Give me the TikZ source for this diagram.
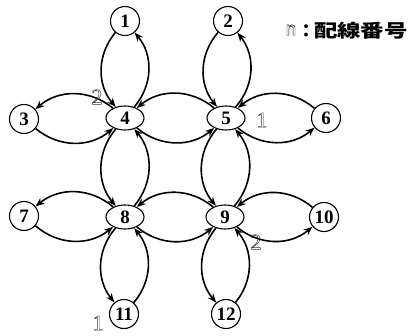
\documentclass[tikz,border=0pt]{standalone}
\usepackage{fontspec}
\setmainfont{Liberation Serif}
\newfontfamily\cjk{Noto Sans CJK JP}
\usetikzlibrary{shapes.geometric,arrows.meta}
\newcommand{\outl}[1]{\special{pdf:literal direct 1 Tr 0.45 w}#1\special{pdf:literal direct 0 Tr}}
\begin{document}
\begin{tikzpicture}[x=1pt,y=1pt,
  circ/.style={circle,draw,line width=1.1pt,minimum size=29pt,inner sep=0pt,font=\fontsize{19}{19}\selectfont\bfseries},
  oval/.style={ellipse,draw,line width=1.1pt,minimum width=38pt,minimum height=24pt,inner sep=0pt,font=\fontsize{19}{19}\selectfont\bfseries},
  link/.style={line width=1.6pt,-{Stealth[length=9pt,width=7pt,inset=3pt]},bend right=40},
  num/.style={font=\fontsize{22}{22}\selectfont,text=black!80,inner sep=0pt}]
\useasboundingbox (0,0) rectangle (414,335);
\node[circ] (n1) at (125,314) {1};
\node[circ] (n2) at (228,314) {2};
\node[circ] (n3) at (24,216) {3};
\node[oval] (n4) at (125,217) {4};
\node[oval] (n5) at (226,217) {5};
\node[circ] (n6) at (326,217) {6};
\node[circ] (n7) at (24,119) {7};
\node[oval] (n8) at (125,118) {8};
\node[oval] (n9) at (225,118) {9};
\node[circ] (n10) at (324,118) {10};
\node[circ] (n11) at (124,21) {11};
\node[circ] (n12) at (226,21) {12};
\foreach \a/\b in {1/4,2/5,3/4,4/5,5/6,4/8,5/9,7/8,8/9,9/10,8/11,9/12}{
  \draw[link] (n\a) to (n\b);
  \draw[link] (n\b) to (n\a);
}
\node[num] (l1) at (97,238) {\outl{2}};
\node[num] (l2) at (262,215) {\outl{1}};
\node[num] (l3) at (256,93) {\outl{2}};
\node[num] (l4) at (98,12) {\outl{1}};
\node[font=\sffamily\fontsize{24}{24}\selectfont,inner sep=0pt] (ln) at (291,305) {\outl{n}};
\node[font=\cjk\bfseries\fontsize{18}{18}\selectfont,inner sep=0pt] (lc) at (306,304) {：};
\node[font=\cjk\bfseries\fontsize{18}{18}\selectfont,inner sep=0pt,xscale=1.3,anchor=east] (lt) at (408,304) {配線番号};
\end{tikzpicture}
\end{document}
